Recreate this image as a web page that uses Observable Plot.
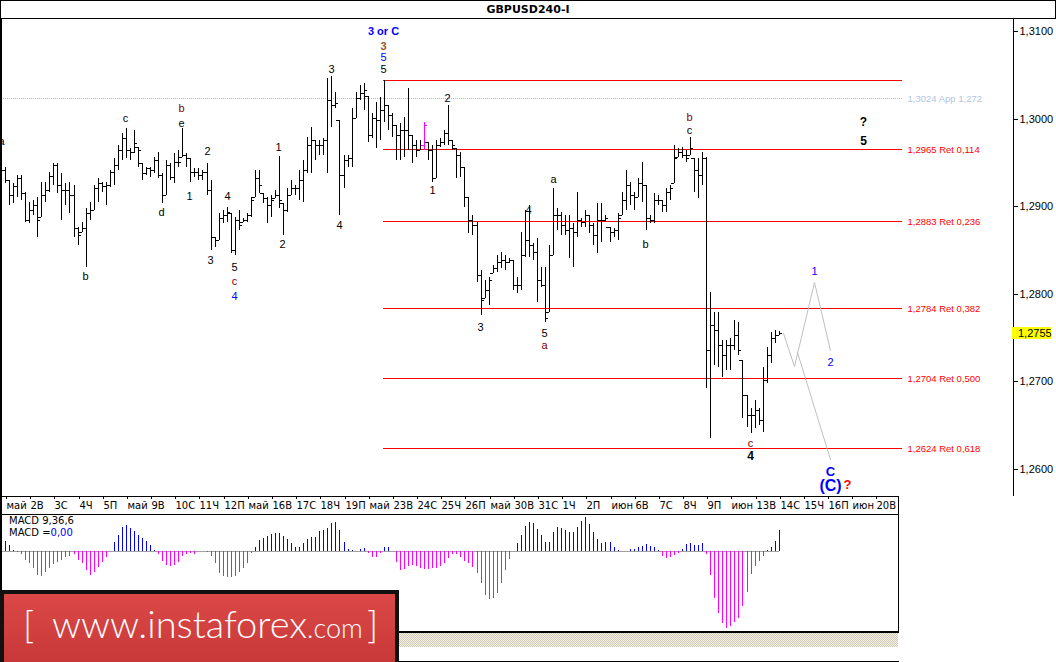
<!DOCTYPE html>
<html><head><meta charset="utf-8">
<script src="https://cdn.jsdelivr.net/npm/d3@7"></script>
<script src="https://cdn.jsdelivr.net/npm/@observablehq/plot@0.6"></script>
<style>
html,body{margin:0;padding:0;background:#fff;}
#root{position:relative;width:1056px;height:662px;overflow:hidden;background:#fff;font-family:"DejaVu Sans",sans-serif;}
.abs{position:absolute;}
svg line{shape-rendering:crispEdges;}
</style></head><body><div id="root"></div>
<script>
// ---------------- DATA (GBPUSD, H4) ----------------
const symbol = "GBPUSD240-I";
const highs = [1.2945,1.2930,1.2926,1.2936,1.2936,1.2916,1.2905,1.2907,1.2911,1.2928,
1.2928,1.2939,1.2949,1.2949,1.2938,1.2926,1.2928,1.2924,1.2876,1.2882,
1.2898,1.2905,1.2924,1.2932,1.2928,1.2928,1.2941,1.2955,1.2970,1.2984,
1.2989,1.2966,1.2987,1.2968,1.2949,1.2945,1.2945,1.2956,1.2962,1.2938,
1.2953,1.2949,1.2961,1.2964,1.2989,1.2961,1.2955,1.2944,1.2944,1.2941,
1.2949,1.2930,1.2865,1.2892,1.2896,1.2899,1.2892,1.2888,1.2896,1.2887,
1.2892,1.2911,1.2941,1.2941,1.2915,1.2911,1.2913,1.2919,1.2957,1.2904,
1.2921,1.2930,1.2924,1.2941,1.2953,1.2979,1.2990,1.2976,1.2976,1.2978,
1.3046,1.3049,1.3030,1.2998,1.2958,1.2958,1.3012,1.3030,1.3038,1.3041,
1.3026,1.3006,1.3019,1.3025,1.3044,1.3016,1.3006,1.2993,1.2995,1.3002,
1.3035,1.2981,1.2976,1.2976,1.2996,1.2973,1.2970,1.2976,1.2978,1.2987,
1.3016,1.2976,1.2966,1.2962,1.2945,1.2911,1.2890,1.2882,1.2827,1.2816,
1.2819,1.2833,1.2844,1.2848,1.2844,1.2841,1.2839,1.2819,1.2871,1.2896,
1.2901,1.2858,1.2864,1.2831,1.2831,1.2856,1.2921,1.2898,1.2893,1.2890,
1.2890,1.2881,1.2916,1.2887,1.2896,1.2890,1.2881,1.2904,1.2904,1.2890,
1.2876,1.2875,1.2892,1.2916,1.2941,1.2928,1.2916,1.2932,1.2950,1.2924,
1.2890,1.2915,1.2913,1.2907,1.2921,1.2924,1.2970,1.2966,1.2968,1.2964,
1.2979,1.2955,1.2955,1.2962,1.2956,1.2802,1.2779,1.2779,1.2747,1.2747,
1.2750,1.2770,1.2768,1.2724,1.2684,1.2670,1.2679,1.2670,1.2716,1.2739,
1.2756,1.2759,1.2758];
const lows = [1.2926,1.2901,1.2904,1.2911,1.2907,1.2882,1.2881,1.2890,1.2865,1.2888,
1.2905,1.2916,1.2924,1.2915,1.2884,1.2901,1.2892,1.2865,1.2856,1.2871,
1.2831,1.2884,1.2896,1.2905,1.2916,1.2901,1.2922,1.2924,1.2941,1.2953,
1.2955,1.2953,1.2961,1.2945,1.2930,1.2936,1.2933,1.2938,1.2932,1.2904,
1.2913,1.2930,1.2926,1.2945,1.2956,1.2945,1.2928,1.2933,1.2930,1.2930,
1.2913,1.2850,1.2853,1.2861,1.2881,1.2882,1.2847,1.2844,1.2873,1.2882,
1.2882,1.2888,1.2911,1.2915,1.2904,1.2881,1.2888,1.2909,1.2898,1.2867,
1.2893,1.2913,1.2913,1.2907,1.2905,1.2938,1.2938,1.2953,1.2958,1.2958,
1.2938,1.2990,1.3012,1.2890,1.2921,1.2945,1.2945,1.3001,1.3021,1.3010,
1.2973,1.2978,1.2966,1.2976,1.2996,1.2987,1.2979,1.2953,1.2953,1.2956,
1.2964,1.2949,1.2956,1.2964,1.2964,1.2953,1.2928,1.2932,1.2968,1.2970,
1.2970,1.2964,1.2932,1.2933,1.2899,1.2869,1.2867,1.2813,1.2776,1.2795,
1.2787,1.2824,1.2825,1.2829,1.2827,1.2835,1.2804,1.2801,1.2804,1.2842,
1.2842,1.2839,1.2791,1.2808,1.2768,1.2779,1.2844,1.2873,1.2867,1.2867,
1.2841,1.2831,1.2865,1.2876,1.2876,1.2869,1.2856,1.2847,1.2859,1.2882,
1.2859,1.2865,1.2861,1.2890,1.2896,1.2901,1.2896,1.2911,1.2905,1.2873,
1.2881,1.2881,1.2901,1.2893,1.2893,1.2907,1.2926,1.2956,1.2955,1.2950,
1.2958,1.2916,1.2909,1.2924,1.2692,1.2635,1.2719,1.2716,1.2705,1.2713,
1.2713,1.2736,1.2730,1.2658,1.2648,1.2641,1.2647,1.2650,1.2642,1.2698,
1.2721,1.2744,1.2753];
const opens = [1.2941,1.2930,1.2913,1.2923,1.2932,1.2915,1.2884,1.2896,1.2901,1.2888,
1.2913,1.2919,1.2934,1.2947,1.2924,1.2919,1.2919,1.2913,1.2875,1.2871,
1.2875,1.2892,1.2896,1.2921,1.2926,1.2923,1.2924,1.2939,1.2947,1.2964,
1.2978,1.2964,1.2962,1.2968,1.2949,1.2938,1.2944,1.2941,1.2953,1.2936,
1.2913,1.2947,1.2933,1.2950,1.2956,1.2958,1.2955,1.2939,1.2939,1.2936,
1.2939,1.2919,1.2865,1.2861,1.2887,1.2890,1.2892,1.2850,1.2884,1.2882,
1.2884,1.2890,1.2911,1.2932,1.2915,1.2909,1.2901,1.2909,1.2913,1.2904,
1.2896,1.2913,1.2921,1.2921,1.2930,1.2941,1.2970,1.2976,1.2970,1.2970,
1.2976,1.3021,1.3016,1.2998,1.2936,1.2953,1.2955,1.3001,1.3024,1.3029,
1.3026,1.2981,1.3001,1.2998,1.3010,1.3016,1.3004,1.2993,1.2981,1.2987,
1.2987,1.2981,1.2970,1.2964,1.2970,1.2973,1.2964,1.2932,1.2970,1.2973,
1.2984,1.2976,1.2966,1.2958,1.2945,1.2911,1.2884,1.2879,1.2821,1.2795,
1.2804,1.2824,1.2829,1.2836,1.2839,1.2836,1.2839,1.2810,1.2810,1.2844,
1.2861,1.2856,1.2848,1.2816,1.2810,1.2779,1.2844,1.2890,1.2890,1.2879,
1.2873,1.2875,1.2871,1.2884,1.2882,1.2890,1.2879,1.2867,1.2884,1.2884,
1.2876,1.2871,1.2873,1.2890,1.2907,1.2924,1.2913,1.2911,1.2926,1.2924,
1.2887,1.2884,1.2907,1.2907,1.2901,1.2916,1.2926,1.2956,1.2962,1.2958,
1.2958,1.2955,1.2941,1.2936,1.2955,1.2736,1.2764,1.2759,1.2742,1.2730,
1.2742,1.2742,1.2753,1.2724,1.2684,1.2662,1.2662,1.2667,1.2656,1.2702,
1.2730,1.2750,1.2753];
const closes = [1.2930,1.2913,1.2923,1.2932,1.2915,1.2884,1.2896,1.2901,1.2884,1.2913,
1.2919,1.2934,1.2947,1.2924,1.2919,1.2919,1.2913,1.2875,1.2867,1.2875,
1.2892,1.2896,1.2921,1.2926,1.2923,1.2924,1.2939,1.2947,1.2964,1.2978,
1.2964,1.2962,1.2972,1.2964,1.2938,1.2944,1.2941,1.2953,1.2936,1.2913,
1.2947,1.2933,1.2950,1.2950,1.2958,1.2955,1.2939,1.2939,1.2936,1.2939,
1.2919,1.2865,1.2861,1.2887,1.2890,1.2893,1.2850,1.2884,1.2879,1.2884,
1.2890,1.2907,1.2932,1.2924,1.2909,1.2901,1.2907,1.2913,1.2907,1.2896,
1.2913,1.2921,1.2921,1.2930,1.2941,1.2970,1.2976,1.2970,1.2970,1.2976,
1.3021,1.3016,1.3018,1.2936,1.2953,1.2955,1.3001,1.3024,1.3029,1.3033,
1.2981,1.3001,1.2998,1.3010,1.3016,1.3004,1.2993,1.2981,1.2987,1.2987,
1.2981,1.2970,1.2964,1.2970,1.2993,1.2964,1.2932,1.2970,1.2973,1.2984,
1.2976,1.2970,1.2958,1.2945,1.2911,1.2884,1.2879,1.2821,1.2793,1.2804,
1.2816,1.2829,1.2836,1.2839,1.2836,1.2839,1.2810,1.2810,1.2844,1.2861,
1.2856,1.2848,1.2816,1.2810,1.2772,1.2844,1.2890,1.2890,1.2879,1.2873,
1.2875,1.2871,1.2884,1.2882,1.2890,1.2879,1.2867,1.2884,1.2884,1.2887,
1.2871,1.2873,1.2887,1.2907,1.2924,1.2913,1.2911,1.2926,1.2924,1.2887,
1.2884,1.2907,1.2907,1.2901,1.2916,1.2921,1.2955,1.2962,1.2958,1.2955,
1.2966,1.2941,1.2936,1.2955,1.2736,1.2764,1.2759,1.2742,1.2730,1.2742,
1.2742,1.2753,1.2736,1.2684,1.2662,1.2662,1.2667,1.2656,1.2702,1.2730,
1.2750,1.2753,1.2755];
const highlightBar = 104;             // bar drawn in magenta
const lastPrice = 1.2755;

// MACD(9,36,6) histogram, in points (0.00001)
const macdHist = [50,30,5,-5,-15,-45,-60,-85,-120,-125,
-105,-85,-65,-55,-45,-30,-25,-15,-45,-60,
-95,-120,-105,-80,-55,-30,0,45,80,120,
130,115,100,80,65,50,30,5,-15,-50,
-70,-75,-70,-55,-25,-15,-10,-15,0,0,
-5,-25,-60,-110,-125,-130,-130,-125,-105,-85,
-60,-10,20,55,65,75,85,90,90,75,
60,40,20,20,40,60,70,70,100,105,
115,140,145,105,45,10,5,2,10,15,
-10,-30,-30,-10,20,20,0,-55,-95,-90,
-75,-70,-75,-85,-90,-90,-85,-85,-75,
-60,-35,-15,-15,-30,-50,-60,-80,-110,-160,
-220,-240,-235,-210,-160,-95,-40,0,40,80,
125,145,140,110,80,45,45,95,120,115,
105,95,95,120,150,170,135,95,60,40,
45,45,20,5,0,0,10,10,20,25,
35,25,20,5,-25,-35,-30,-20,-10,10,
35,40,30,30,40,-15,-120,-235,-310,-360,
-385,-375,-355,-335,-275,-205,-115,-75,-50,-25,
5,20,50,105];

// Time axis: one label per trading day, 6 H4 bars per day
const dayLabels = ["май","2В","3С","4Ч","5П","май","9В","10С","11Ч","12П","май","16В","17С","18Ч","19П",
"май","23В","24С","25Ч","26П","май","30В","31С","1Ч","2П","июн","6В","7С","8Ч","9П","июн","13В","14С","15Ч","16П","июн","20В"];
const barsPerDay = 6;
const priceTicks = [1.26, 1.27, 1.28, 1.29, 1.30, 1.31];

// Fibonacci levels
const fibLevels = [1.3044, 1.2965, 1.2883, 1.2784, 1.2704, 1.2624];
const fibRatios = [0, 0.114, 0.236, 0.382, 0.5, 0.618];
const appLevel = 1.3024, appRatio = 1.272;
const fibStartBar = 93.8, fibEndBar = 222.6;

// Projected path (bar index, price)
const projMain = [[193.05,1.2755],[195.8,1.2718],[200.7,1.2813],[204.7,1.2736]];
const projAlt  = [[196.5,1.2734],[204.7,1.2611]];

// Wave labels [text, bar index, price]
const labelsBlack = [["a",-1.0,1.2974],["c",29.85,1.3001],["e",43.75,1.2995],["2",50.05,1.2963],["1",45.73,1.2912],
["4",55.0,1.2912],["b",19.93,1.2820],["d",38.78,1.2893],["3",50.87,1.2839],["5",56.9,1.2831],["1",67.8,1.2968],
["2",68.8,1.2857],["3",80.9,1.3057],["4",82.9,1.2879],["5",93.8,1.3057],["2",109.6,1.3024],["1",105.9,1.2918],
["3",117.9,1.2762],["5",133.7,1.2755],["4",129.8,1.2896],["a",135.9,1.2931],["b",158.8,1.2857],["c",169.7,1.2987]];
const labelsDarkRed = [["b",43.75,1.3012],["c",56.9,1.2815],["a",133.7,1.2742],["b",169.7,1.3002],["c",184.9,1.2630]];
const labelsBlue = [["4",56.9,1.2798],["5",93.8,1.3070],["1",200.7,1.2826],["2",204.7,1.2722]];
const labelsBoldBlack = [["?",212.9,1.2996],["5",212.9,1.2975],["4",184.9,1.2615]];
const labelTop = [["3 or C",93.8,1.3100]];
const labelSienna = [["3",93.8,1.3083]];
const labelC = [["C",204.7,1.2598]];
const labelCC = [["(C)",204.7,1.2582]];
const labelQ = [["?",208.9,1.2583]];

// ---------------- LAYOUT ----------------
const X0 = 5, BAR_PX = 4.03, LEFT = 1, RIGHT = 1013;
const xDomain = [(LEFT - X0) / BAR_PX, (RIGHT - X0) / BAR_PX];
const yDomain = [1.256918, 1.311484];
const fmt = d => d.toFixed(4).replace(".", ",");
const fmtR = r => r.toFixed(3).replace(".", ",");
const LS = "Liberation Sans, Arial, sans-serif";
const DV = "DejaVu Sans, Verdana, sans-serif";

const bars = closes.map((c, i) => ({i, o: opens[i], h: highs[i], l: lows[i], c}));
const normalBars = bars.filter(d => d.i !== highlightBar);
const hiBars = bars.filter(d => d.i === highlightBar);
const dayTicks = dayLabels.map((_, k) => k * barsPerDay);
const fibTable = fibLevels.map((level, k) => ({level, ratio: fibRatios[k]}));
const toPts = a => a.map(([i, p]) => ({i, p}));
const lab = (arr, o) => Plot.text(arr, {x: d => d[1], y: d => d[2], text: d => d[0], fontFamily: LS, ...o});
const ohlc = (data, color) => [
  Plot.ruleX(data, {x: "i", y1: "l", y2: "h", stroke: color}),
  Plot.ruleY(data, {y: "o", x1: d => d.i - 0.75, x2: d => d.i, stroke: color}),
  Plot.ruleY(data, {y: "c", x1: d => d.i, x2: d => d.i + 0.75, stroke: color})
];

const root = document.getElementById("root");
function box(css, html) { const d = document.createElement("div"); d.className = "abs"; Object.assign(d.style, css); if (html) d.innerHTML = html; root.appendChild(d); return d; }

// title bar
box({left:"0px", top:"0px", width:"1056px", height:"19px", boxSizing:"border-box", border:"1px solid #000",
  textAlign:"center", font:"bold 11px " + DV, lineHeight:"17px", color:"#000"}, symbol);

const main = Plot.plot({
  width: 1056, height: 497, marginTop: 0, marginBottom: 19, marginLeft: 1, marginRight: 43,
  x: {domain: xDomain, axis: null, round: true},
  y: {domain: yDomain, axis: null, round: true},
  style: {background: "transparent", color: "#000", fontFamily: LS, fontSize: "11px", overflow: "visible"},
  marks: [
    Plot.ruleY([appLevel], {x1: xDomain[0], x2: fibEndBar, stroke: "#9fbfcc", strokeDasharray: "1,1"}),
    Plot.ruleY(fibLevels, {x1: fibStartBar, x2: fibEndBar, stroke: "#ff0000"}),
    Plot.text(fibTable.filter(d => d.ratio > 0), {x: fibEndBar, y: "level", text: d => `${fmt(d.level)} Ret ${fmtR(d.ratio)}`,
      textAnchor: "start", dx: 5, fill: "#ff0000", fontSize: 9.5, fontFamily: LS}),
    Plot.text([appLevel], {x: fibEndBar, y: d => d, text: d => `${fmt(d)} App ${fmtR(appRatio)}`,
      textAnchor: "start", dx: 5, fill: "#b0c4de", fontSize: 9.5, fontFamily: LS}),
    ...ohlc(normalBars, "#000000"),
    ...ohlc(hiBars, "#ff00ff"),
    Plot.line(toPts(projMain), {x: "i", y: "p", stroke: "#c0c0c0", strokeWidth: 1}),
    Plot.line(toPts(projAlt), {x: "i", y: "p", stroke: "#c0c0c0", strokeWidth: 1}),
    lab(labelsBlack, {fill: "#000", fontSize: 11, clip: true}),
    lab(labelsDarkRed, {fill: "#800000", fontSize: 11}),
    lab(labelsBlue, {fill: "#0000ff", fontSize: 11}),
    lab(labelsBoldBlack, {fill: "#000", fontSize: 12, fontWeight: "bold"}),
    lab(labelTop, {fill: "#0000ff", fontSize: 11, fontWeight: "bold"}),
    lab(labelSienna, {fill: "#a0522d", fontSize: 11, fontWeight: "bold"}),
    lab(labelC, {fill: "#0000ff", fontSize: 13, fontWeight: "bold"}),
    lab(labelCC, {fill: "#0000ff", fontSize: 16, fontWeight: "bold"}),
    lab(labelQ, {fill: "#ff0000", fontSize: 13, fontWeight: "bold"}),
    Plot.axisY({anchor: "right", label: null, ticks: priceTicks, tickFormat: fmt, tickSize: 4, tickPadding: 2, fontSize: 11, fontFamily: LS}),
    Plot.axisX({anchor: "bottom", label: null, ticks: dayTicks, tickFormat: d => dayLabels[dayTicks.indexOf(d)], tickSize: 3, tickPadding: 2,
      textAnchor: "start", dx: 1, fontSize: 10, fontFamily: DV})
  ]
});
main.style.position = "absolute"; main.style.left = "0px"; main.style.top = "18px";
root.appendChild(main);

const macdTable = macdHist.map((v, i) => ({i, v}));
const macd = Plot.plot({
  width: 1056, height: 117, marginTop: 0, marginBottom: 0, marginLeft: 1, marginRight: 43,
  x: {domain: xDomain, axis: null, round: true},
  y: {domain: [-405, 180], axis: null, round: true},
  style: {background: "transparent"},
  marks: [
    Plot.ruleY([0], {x1: xDomain[0], x2: macdTable.length - 1, stroke: "#a0a0a0"}),
    Plot.ruleX(macdTable.filter(d => d.v > 0), {x: "i", y1: 0, y2: "v", stroke: "#0000ff"}),
    Plot.ruleX(macdTable.filter(d => d.v < 0), {x: "i", y1: 0, y2: "v", stroke: "#ff00ff"})
  ]
});
macd.style.position = "absolute"; macd.style.left = "0px"; macd.style.top = "515px";
root.appendChild(macd);

// frame lines
box({left:"0px", top:"18px", width:"2px", height:"644px", background:"#000"});
box({left:"1013px", top:"18px", width:"1px", height:"478px", background:"#000"});
box({left:"0px", top:"496px", width:"898px", height:"1px", background:"#000"});
box({left:"0px", top:"514px", width:"898px", height:"1px", background:"#000"});
box({left:"898px", top:"496px", width:"1px", height:"137px", background:"#000"});
box({left:"0px", top:"631px", width:"899px", height:"2px", background:"#000"});
box({left:"0px", top:"633px", width:"898px", height:"14px",
  backgroundImage:"repeating-conic-gradient(#d2ccb4 0 25%, #f2efe6 0 50%)", backgroundSize:"2px 2px"});
box({left:"0px", top:"661px", width:"899px", height:"1px", background:"#000"});

// MACD captions
box({left:"9px", top:"515px", font:"10px " + DV, lineHeight:"12px", color:"#000", whiteSpace:"nowrap"}, "MACD 9,36,6");
box({left:"9px", top:"527px", font:"10px " + DV, lineHeight:"12px", color:"#000", whiteSpace:"nowrap"},
  'MACD =<span style="color:#0000ff">0,00</span>');

// current price box
const yPx = main.scale("y").apply(lastPrice) + 18;
box({left:"1012px", top:(yPx - 6) + "px", width:"39px", height:"12px", background:"#ffff00",
  font:"11px " + LS, lineHeight:"12px", color:"#000", paddingLeft:"6px", boxSizing:"border-box"}, fmt(lastPrice));

// logo
box({left:"0px", top:"590px", width:"399px", height:"72px"},
 `<svg width="399" height="72" xmlns="http://www.w3.org/2000/svg">
  <defs><linearGradient id="lg" x1="0" y1="0" x2="0" y2="1"><stop offset="0" stop-color="#dc4848"/><stop offset="1" stop-color="#c83838"/></linearGradient></defs>
  <rect x="2" y="2" width="395" height="72" fill="url(#lg)" stroke="#111" stroke-width="4"/>
  <text y="48" fill="#ffffff" font-family="Lato, 'Open Sans', sans-serif" font-weight="300" font-size="38"><tspan x="23">[</tspan><tspan x="52">www.instaforex</tspan><tspan font-size="27">.com</tspan><tspan x="367">]</tspan></text>
  </svg>`);
</script></body></html>
